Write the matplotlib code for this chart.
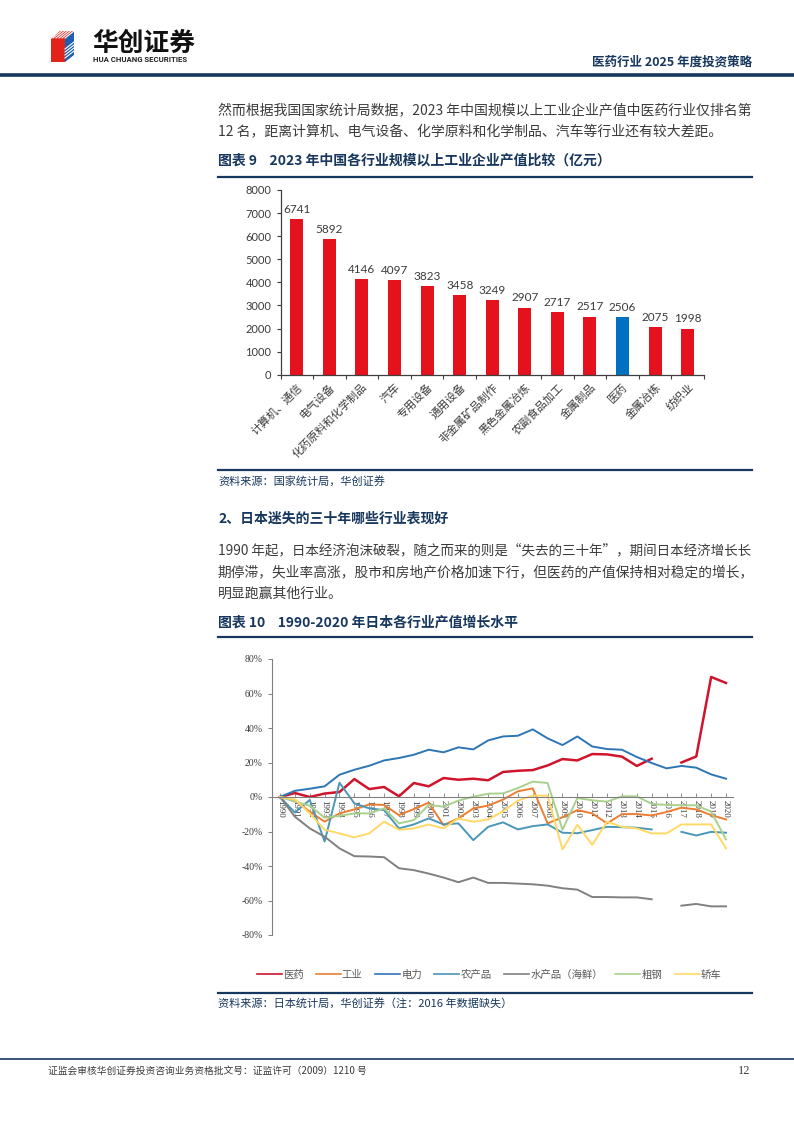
import numpy as np
import matplotlib
matplotlib.use('Agg')
import matplotlib.pyplot as plt
from matplotlib.patches import Polygon

plt.rcParams['font.family'] = ['Noto Sans CJK SC', 'DejaVu Sans']

# ---- data: chart 9 (2023 China industry output, 亿元)
industries = ['计算机、通信', '电气设备', '化药原料和化学制品', '汽车', '专用设备', '通用设备',
              '非金属矿品制作', '黑色金属冶炼', '农副食品加工', '金属制品', '医药', '金属冶炼', '纺织业']
output_2023 = [6741, 5892, 4146, 4097, 3823, 3458, 3249, 2907, 2717, 2517, 2506, 2075, 1998]

# ---- data: chart 10 (Japan industry output growth 1990-2020, %), 2016 missing
years = list(range(1990, 2021))
nan = np.nan
pharma = [0, 2.3, 0, 2.0, 2.9, 10.4, 4.6, 5.8, 0.4, 8.1, 6.2, 11.0, 10.0, 10.6, 9.7, 14.5,
          15.2, 15.6, 18.3, 22.0, 21.2, 24.9, 24.7, 23.4, 18.0, 22.2, nan, 20.0, 23.5, 69.6, 66.1]
industry = [0, -1.7, -8.5, -14.3, -9.5, -7.2, -4.3, -4.6, -10.5, -7.0, -3.3, -16.3, -12.4, -6.6, -5.0, -1.5,
            3.3, 5.0, -15.3, -11.8, -7.6, -9.5, -15.3, -9.9, -9.9, -10.7, -8.7, -6.2, -7.2, -10.5, -13.0]
power = [0, 3.6, 4.8, 6.2, 12.9, 15.8, 18.1, 21.2, 22.6, 24.5, 27.4, 25.9, 28.8, 27.6, 32.8, 35.1,
         35.5, 39.2, 34.0, 30.1, 35.1, 29.3, 27.8, 27.4, 23.2, 19.7, 16.6, 18.0, 17.0, 13.1, 10.6]
agri = [0, -9.0, -1.7, -25.8, 8.3, -3.7, -6.6, -7.6, -18.2, -15.9, -12.4, -15.9, -15.3, -25.0, -17.3, -14.7,
        -18.8, -16.9, -15.9, -20.7, -21.0, -19.2, -17.3, -17.5, -17.8, -18.8, nan, -20.2, -22.3, -20.2, -20.7]
fishery = [0, -11.4, -18.2, -23.0, -29.8, -34.3, -34.5, -34.9, -41.3, -42.4, -44.4, -46.7, -49.4, -46.7, -49.8, -49.8,
           -50.2, -50.6, -51.4, -52.9, -53.7, -58.0, -58.0, -58.2, -58.2, -59.3, nan, -63.0, -62.0, -63.4, -63.4]
steel = [0, -2.7, -5.0, -12.0, -11.0, -9.5, -9.5, -6.6, -15.3, -13.4, -4.6, -5.6, -2.1, 0.2, 1.9, 2.1,
         5.2, 8.9, 8.1, -19.0, -0.6, -1.9, -2.7, 0.4, 0.4, -4.0, -4.6, -4.8, -4.8, -8.5, -24.6]
cars = [0, -1.4, -9.5, -19.0, -21.1, -23.4, -21.1, -14.3, -19.0, -18.2, -15.9, -18.2, -12.4, -14.3, -13.0, -8.3,
        -2.1, 0.8, 0.8, -30.4, -16.1, -27.7, -14.3, -17.3, -18.2, -21.1, -21.1, -15.9, -15.9, -15.9, -29.8]
series_names = ['医药', '工业', '电力', '农产品', '水产品（海鲜）', '粗钢', '轿车']

NAVY = '#17375e'
TEXT = '#3b3b3b'
W, H = 794, 1123

fig = plt.figure(figsize=(W / 100, H / 100), dpi=100)
page = fig.add_axes([0, 0, 1, 1])
page.set_xlim(0, W)
page.set_ylim(H, 0)
page.axis('off')
renderer = fig.canvas.get_renderer()


def body_line(y, s, full=True, **kw):
    # full lines are shrunk a little so they end at the right margin, like the justified text
    t = page.text(218, y, s, fontsize=10, color=TEXT, va='center', **kw)
    if full:
        w = t.get_window_extent(renderer).width
        t.set_fontsize(10 * 534 / w)
    return t


# header / logo
page.add_patch(Polygon([(51, 39), (65, 39), (65, 62), (51, 62)], closed=True, color='#e2231a', lw=0))
page.add_patch(Polygon([(51, 39), (60, 31), (74, 31), (65, 39)], closed=True, color='#e2231a', lw=0))
page.add_patch(Polygon([(65, 39), (74, 31), (74, 55), (65, 62)], closed=True, color='#1f5fae', lw=0))
for k in range(5):
    page.plot([53 + 3 * k, 62 + 3 * k], [38, 31], color='white', lw=0.8)
for k in range(4):
    page.plot([65, 74], [49 + 3 * k, 42 + 3 * k], color='white', lw=0.8)
page.text(92, 43, '华创证券', fontsize=18.5, fontweight='bold', color='#111111', va='center')
page.text(93, 59.5, 'HUA CHUANG SECURITIES', fontsize=5.6, fontweight='bold', color='#222222',
          va='center', family='Roboto')
page.text(752, 62, '医药行业 2025 年度投资策略', fontsize=9, fontweight='bold', color=NAVY,
          va='center', ha='right')
page.plot([0, W], [74.5, 74.5], color=NAVY, lw=2.6, solid_capstyle='butt')

# body text
body_line(111, '然而根据我国国家统计局数据，2023 年中国规模以上工业企业产值中医药行业仅排名第')
body_line(132, '12 名，距离计算机、电气设备、化学原料和化学制品、汽车等行业还有较大差距。', full=False)
page.text(218, 161, '图表 9    2023 年中国各行业规模以上工业企业产值比较（亿元）', fontsize=10,
          fontweight='bold', color=NAVY, va='center')
page.plot([218, 752], [177, 177], color=NAVY, lw=1.6)
page.plot([218, 752], [470, 470], color=NAVY, lw=1.6)
page.text(218, 481, '资料来源：国家统计局，华创证券', fontsize=8, color=NAVY, va='center')

page.text(218, 519, '2、日本迷失的三十年哪些行业表现好', fontsize=10, fontweight='bold', color=NAVY, va='center')
body_line(550, '1990 年起，日本经济泡沫破裂，随之而来的则是“失去的三十年”，期间日本经济增长长')
body_line(572, '期停滞，失业率高涨，股市和房地产价格加速下行，但医药的产值保持相对稳定的增长，')
body_line(594, '明显跑赢其他行业。', full=False)
page.text(218, 623, '图表 10    1990-2020 年日本各行业产值增长水平', fontsize=10, fontweight='bold',
          color=NAVY, va='center')
page.plot([218, 752], [637, 637], color=NAVY, lw=1.6)
page.plot([218, 752], [993, 993], color=NAVY, lw=1.6)
page.text(218, 1004, '资料来源：日本统计局，华创证券（注：2016 年数据缺失）', fontsize=8, color=NAVY,
          va='center')

# footer
page.plot([0, W], [1059, 1059], color=NAVY, lw=1.2)
page.text(48, 1071, '证监会审核华创证券投资咨询业务资格批文号：证监许可（2009）1210 号', fontsize=7,
          color=TEXT, va='center')
page.text(750, 1071, '12', fontsize=9, color=TEXT, va='center', ha='right', family='Liberation Serif')

# ---- chart 9: bars
ax1 = fig.add_axes([280.5 / W, 1 - 374.7 / H, (704 - 280.5) / W, (374.7 - 190) / H])
x = np.arange(len(industries))
colors = ['#0070c0' if n == '医药' else '#e3121c' for n in industries]
bars = ax1.bar(x, output_2023, width=0.4, color=colors)
ax1.bar_label(bars, padding=3, fontsize=8.5, color=TEXT, family='Lato')
ax1.set_xlim(-0.5, len(industries) - 0.5)
ax1.set_ylim(0, 8000)
ax1.set_yticks(range(0, 8001, 1000))
ax1.tick_params(axis='y', labelsize=8, colors=TEXT, length=3, width=0.8)
for lab in ax1.get_yticklabels():
    lab.set_family('Lato')
ax1.set_xticks(x)
ax1.set_xticklabels(industries, rotation=45, ha='right', rotation_mode='anchor', fontsize=8, color=TEXT)
ax1.tick_params(axis='x', which='major', length=0, pad=5)
ax1.set_xticks(np.arange(-0.5, len(industries), 1), minor=True)
ax1.tick_params(axis='x', which='minor', length=3, width=0.8, color='#404040')
for s in ['top', 'right']:
    ax1.spines[s].set_visible(False)
for s in ['left', 'bottom']:
    ax1.spines[s].set_color('#404040')
    ax1.spines[s].set_linewidth(0.9)

# ---- chart 10: lines
ax2 = fig.add_axes([272 / W, 1 - 935 / H, (733 - 272) / W, (935 - 659) / H])
ax2.spines['bottom'].set_position(('data', 0))  # before the tick labels, it resets them
line_colors = ['#d0142c', '#ed7d31', '#2e75b6', '#4a97b8', '#808080', '#a9d18e', '#ffd966']
all_series = [pharma, industry, power, agri, fishery, steel, cars]
handles = []
for vals, c, name in zip(all_series, line_colors, series_names):
    lw = 1.8 if name == '医药' else 1.4
    h, = ax2.plot(years, vals, color=c, lw=lw, label=name)
    handles.append(h)
ax2.set_xlim(1989.46, 2020.47)
ax2.set_ylim(-80, 80)
ax2.set_yticks(range(-80, 81, 20))
ax2.set_yticklabels([f'{v}%' for v in range(-80, 81, 20)], family='Liberation Serif', fontsize=7, color=TEXT)
ax2.tick_params(axis='y', length=3, width=0.7, color='#808080')
ax2.set_xticks(years)
ax2.set_xticklabels([str(y) for y in years], rotation=270, family='Liberation Serif', fontsize=6.5,
                    color=TEXT, va='top', ha='center')
ax2.tick_params(axis='x', direction='in', length=3, width=0.6, color='#808080', pad=2)
for s in ['top', 'right']:
    ax2.spines[s].set_visible(False)
for s in ['left', 'bottom']:
    ax2.spines[s].set_color('#808080')
    ax2.spines[s].set_linewidth(0.8)

leg = ax2.legend(handles=handles, loc='center', ncol=7, frameon=False, fontsize=7.5,
                 bbox_to_anchor=(489 / W, 1 - 975 / H), bbox_transform=fig.transFigure,
                 handlelength=2.4, handletextpad=0.1, columnspacing=1.2)
for t in leg.get_texts():
    t.set_color('#595959')
for lh in leg.get_lines():
    lh.set_linewidth(1.2)

fig.savefig('out.png', dpi=100)
